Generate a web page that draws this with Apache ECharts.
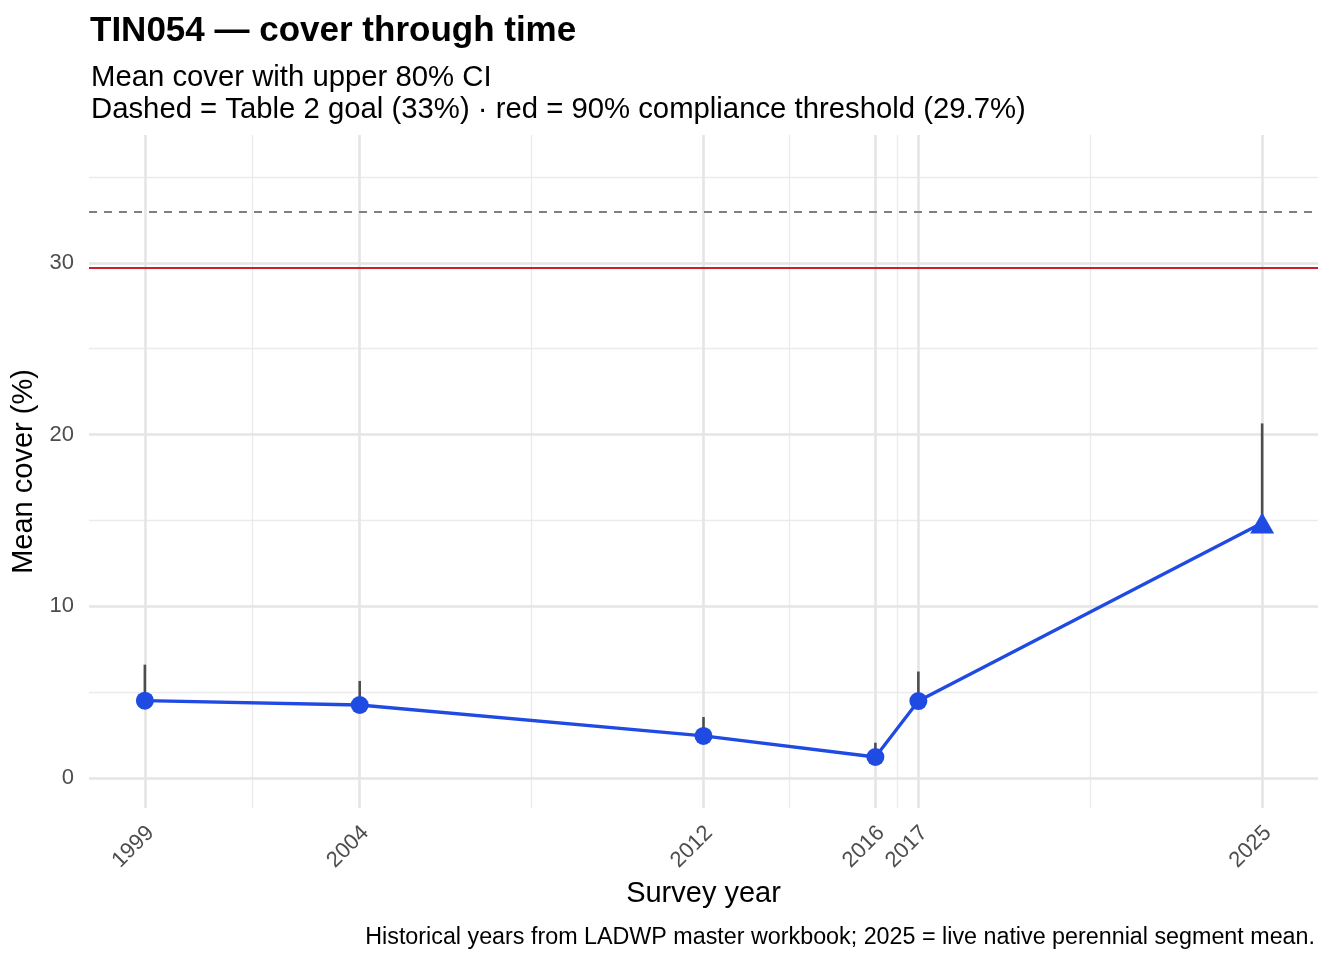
<!DOCTYPE html>
<html><head><meta charset="utf-8">
<script src="https://cdn.jsdelivr.net/npm/echarts@6/dist/echarts.min.js"></script>
<style>html,body{margin:0;padding:0;background:#fff}#c{width:1344px;height:960px}</style>
</head><body><div id="c"></div>
<script>
const years = [1999, 2004, 2012, 2016, 2017, 2025];
const meanCover = [4.5, 4.25, 2.45, 1.22, 4.48, 14.85];
const upperCI = [6.6, 5.65, 3.55, 2.05, 6.2, 20.65];
const pointShapes = ['circle', 'circle', 'circle', 'circle', 'circle', 'triangle'];
const yTicks = [0, 10, 20, 30];
const yMinorTicks = [5, 15, 25, 35];
const goalValue = 33;
const thresholdValue = 29.7;

const FONT = '"Liberation Sans", Arial, Helvetica, sans-serif';
const xMinor = [];
for (let i = 0; i < years.length - 1; i++) xMinor.push((years[i] + years[i + 1]) / 2);

const gridLines = [];
xMinor.forEach(v => gridLines.push({xAxis: v, lineStyle: {color: '#ebebeb', width: 1.3, type: 'solid'}}));
yMinorTicks.forEach(v => gridLines.push({yAxis: v, lineStyle: {color: '#ebebeb', width: 1.3, type: 'solid'}}));
years.forEach(v => gridLines.push({xAxis: v, lineStyle: {color: '#e5e5e5', width: 2.6, type: 'solid'}}));
yTicks.forEach(v => gridLines.push({yAxis: v, lineStyle: {color: '#e5e5e5', width: 2.6, type: 'solid'}}));

const chart = echarts.init(document.getElementById('c'), null, {renderer: 'canvas'});
chart.setOption({
  animation: false,
  backgroundColor: '#ffffff',
  textStyle: {fontFamily: FONT},
  title: [
    {text: 'TIN054 — cover through time', left: 85, top: 9,
     textStyle: {fontFamily: FONT, fontSize: 35, fontWeight: 'bold', color: '#000'}},
    {text: 'Mean cover with upper 80% CI\nDashed = Table 2 goal (33%) · red = 90% compliance threshold (29.7%)',
     left: 86, top: 57,
     textStyle: {fontFamily: FONT, fontSize: 29.3, fontWeight: 'normal', color: '#000', lineHeight: 32}},
    {text: 'Historical years from LADWP master workbook; 2025 = live native perennial segment mean.',
     right: 24, top: 921,
     textStyle: {fontFamily: FONT, fontSize: 23.3, fontWeight: 'normal', color: '#000'}}
  ],
  grid: {left: 89, right: 26, top: 135, bottom: 152, containLabel: false},
  xAxis: {
    type: 'value', min: 1997.7, max: 2026.3,
    name: 'Survey year', nameLocation: 'middle', nameGap: 71,
    nameTextStyle: {fontFamily: FONT, fontSize: 29, color: '#000'},
    axisLine: {show: false}, axisTick: {show: false}, splitLine: {show: false},
    axisLabel: {customValues: years, rotate: 45, margin: 6, fontSize: 22, color: '#4d4d4d', fontFamily: FONT,
      align: 'right', verticalAlign: 'top', padding: [4, 7, 0, 0],
      formatter: v => String(v)}
  },
  yAxis: {
    type: 'value', min: -1.75, max: 37.45,
    name: 'Mean cover (%)', nameLocation: 'middle', nameGap: 45, nameRotate: 90,
    nameTextStyle: {fontFamily: FONT, fontSize: 29, color: '#000'},
    axisLine: {show: false}, axisTick: {show: false}, splitLine: {show: false},
    axisLabel: {customValues: yTicks, margin: 15, fontSize: 22, color: '#4d4d4d', fontFamily: FONT}
  },
  series: [
    {type: 'line', data: [], silent: true, z: 1,
     markLine: {silent: true, z: 1, symbol: ['none', 'none'], label: {show: false}, animation: false, data: gridLines}},
    {type: 'line', data: [], silent: true, z: 2,
     markLine: {silent: true, z: 2, symbol: ['none', 'none'], label: {show: false}, animation: false,
       data: [
         {yAxis: goalValue, lineStyle: {color: '#808080', width: 2, type: [8, 7]}},
         {yAxis: thresholdValue, lineStyle: {color: '#c9202a', width: 2, type: 'solid'}}
       ]}},
    {type: 'custom', z: 3, silent: true,
     data: years.map((y, i) => [y, meanCover[i], upperCI[i]]),
     renderItem: function (params, api) {
       const p1 = api.coord([api.value(0), api.value(1)]);
       const p2 = api.coord([api.value(0), api.value(2)]);
       return {type: 'line', shape: {x1: p1[0], y1: p1[1], x2: p2[0], y2: p2[1]},
               style: {stroke: '#4d4d4d', lineWidth: 2.6}};
     }},
    {type: 'line', z: 4, silent: true,
     data: years.map((y, i) => ({value: [y, meanCover[i]], symbol: pointShapes[i],
        symbolSize: pointShapes[i] === 'triangle' ? [24, 21] : 18})),
     lineStyle: {color: '#1f4be3', width: 3.3},
     itemStyle: {color: '#1f4be3', borderWidth: 0},
     showSymbol: true, symbol: 'circle'}
  ]
});
</script></body></html>
